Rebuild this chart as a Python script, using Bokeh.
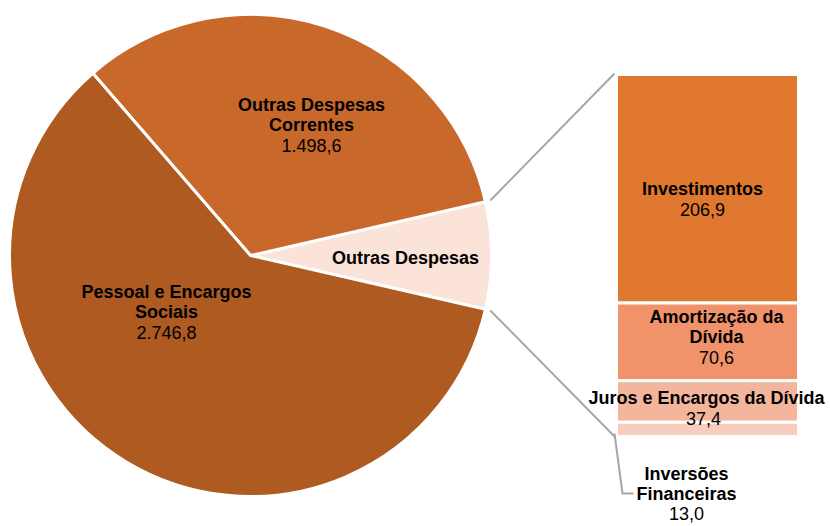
import math
from bokeh.plotting import figure
from bokeh.models import Range1d, ColumnDataSource
from bokeh.core.properties import value
from bokeh.embed import file_html
from bokeh.resources import INLINE

# ---- data ----
bar_labels = ["Investimentos", "Amortização da Dívida", "Juros e Encargos da Dívida", "Inversões Financeiras"]
bar_values = [206.9, 70.6, 37.4, 13.0]
bar_colors = ["#E0782F", "#F0926A", "#F3B59C", "#F8CDBE"]

pie_labels = ["Outras Despesas", "Outras Despesas Correntes", "Pessoal e Encargos Sociais"]
pie_values = [sum(bar_values), 1498.6, 2746.8]
pie_colors = ["#FBE3DA", "#C8692B", "#AE5A21"]

W, H = 830, 526
FONT = "Liberation Sans"
FS = "18px"

p = figure(width=W, height=H, output_backend="svg", toolbar_location=None,
           x_range=Range1d(0, W), y_range=Range1d(0, H), min_border=0)
p.axis.visible = False
p.grid.visible = False
p.outline_line_color = None
p.background_fill_color = "white"

# ---- pie ----
cx, cy, R = 250, 271, 241
total = sum(pie_values)
angles = [v / total * 2 * math.pi for v in pie_values]
starts, ends = [], []
a = -angles[0] / 2
for ang in angles:
    starts.append(a)
    ends.append(a + ang)
    a += ang
pie_src = ColumnDataSource(dict(x=[cx] * 3, y=[cy] * 3, start=starts, end=ends, color=pie_colors))
p.wedge(x="x", y="y", radius=R, start_angle="start", end_angle="end", fill_color="color",
        line_color="white", line_width=3, source=pie_src)

# ---- bar of pie ----
bar_bottom_px, bar_height_px = 90, 362
btotal = sum(bar_values)
s = bar_height_px / btotal
p.extra_y_ranges = {"bar": Range1d(-bar_bottom_px / s, (H - bar_bottom_px) / s)}
tops, bottoms = [], []
acc = btotal
for v in bar_values:
    tops.append(acc)
    bottoms.append(acc - v)
    acc -= v
bx0, bx1 = 616, 798
bar_src = ColumnDataSource(dict(left=[bx0] * 4, right=[bx1] * 4, top=tops, bottom=bottoms, color=bar_colors))
p.quad(left="left", right="right", top="top", bottom="bottom", fill_color="color",
       line_color="white", line_width=3, y_range_name="bar", source=bar_src)

# connector lines
ea, sa = ends[0], starts[0]
rr = R + 5
p.line([cx + rr * math.cos(ea), bx0 - 2], [cy + rr * math.sin(ea), bar_bottom_px + bar_height_px + 1],
       line_color="#A6A6A6", line_width=2)
p.line([cx + rr * math.cos(sa), bx0 - 1], [cy + rr * math.sin(sa), bar_bottom_px - 1],
       line_color="#A6A6A6", line_width=2)
# leader line for Inversões
p.line([614, 622, 633], [93, 33, 33], line_color="#A6A6A6", line_width=2)

# ---- labels ----
def label(x, y, lines, val, vx=None, lh=20.7):
    for i, t in enumerate(lines):
        p.text(x=[x], y=[y - i * lh], text=[t], text_font=value(FONT), text_font_size=FS,
               text_font_style="bold", text_align="center", text_baseline="middle", text_color="black")
    if val is not None:
        p.text(x=[vx if vx is not None else x], y=[y - len(lines) * lh], text=[val], text_font=value(FONT),
               text_font_size=FS, text_align="center", text_baseline="middle", text_color="black")

def fmt(v):
    s_ = f"{v:,.1f}"
    return s_.replace(",", "X").replace(".", ",").replace("X", ".")

label(311, 422, ["Outras Despesas", "Correntes"], fmt(pie_values[1]))
label(166, 235, ["Pessoal e Encargos", "Sociais"], fmt(pie_values[2]))
label(405, 269, ["Outras Despesas"], None)
label(702, 338, ["Investimentos"], fmt(bar_values[0]))
label(716, 210, ["Amortização da", "Dívida"], fmt(bar_values[1]))
label(706, 129, ["Juros e Encargos da Dívida"], fmt(bar_values[2]), vx=703)
label(686, 53, ["Inversões", "Financeiras"], fmt(bar_values[3]), lh=20.0)

open("out.html", "w").write(file_html(p, INLINE))
